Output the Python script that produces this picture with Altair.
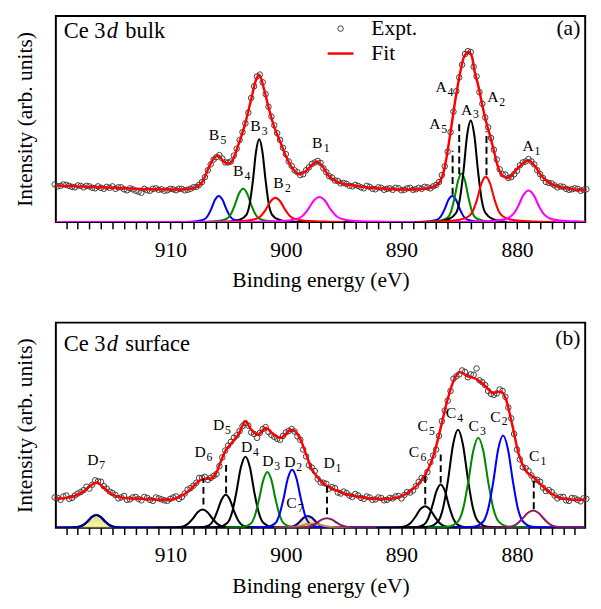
import altair as alt
import pandas as pd

FONT = "Liberation Serif"

# ---------------- x sampling of the experimental points ----------------
GRID = [920 - 0.5 * i for i in range(93)]          # 920.0 ... 874.0
MID_GRID = [919.75 - 0.5 * i for i in range(92)]   # 919.75 ... 874.25
X_TICKS = list(range(875, 920))

# ---------------- panel (a): Ce 3d bulk ----------------
a_expt = [38.5, 37, 38, 36, 37.5, 35.5, 36.5, 34.5, 35, 36,
          36.5, 35.5, 33.5, 34.5, 32, 30, 32.5, 34, 33, 32,
          34, 32.5, 34, 33, 35.5, 38, 46, 59, 66.5, 65,
          61, 68, 84, 101, 127, 149, 143, 118, 99, 84,
          69.5, 57.5, 51, 49, 56, 61, 60.5, 51, 45.5, 42,
          40, 37, 38, 35.5, 37, 34, 35.5, 33, 34.5, 35,
          32.5, 34.5, 33, 35, 36, 34.5, 38, 48, 72, 113,
          148, 172, 174, 149, 121, 97, 74, 54, 48.5, 46,
          52.5, 61, 64.5, 59, 49, 41, 39.5, 35.5, 36, 33,
          34.5, 32, 33.5]

a_expt_mid = [36.5, 38.5, 37, 35.5, 37, 37, 35, 36.5, 34, 35,
              34, 35.5, 32.5, 33.5, 31, 34, 32, 34.5, 33.5, 32.5,
              33.5, 34, 32.5, 34, 36, 41, 53, 64, 68.5, 61,
              62, 75, 92, 112, 139, 151, 131, 108, 91, 76,
              62, 53, 48, 53, 59.5, 62.5, 55, 47, 42.5, 39.5,
              39, 36.5, 37, 34.5, 36, 33.5, 35, 34, 33, 34.5,
              33, 35, 33.5, 34, 35.5, 36.5, 41, 57, 92, 134,
              161, 175, 159, 133, 107, 86, 64, 49, 45, 49,
              58, 62, 62, 53, 45, 40, 37.5, 36.5, 34, 33.5,
              34, 33]

a_fit = [(920, 37.5), (919, 37), (918, 36.5), (917, 36), (916, 35.5), (915, 35), (914, 34.5),
         (913, 34), (912, 33.6), (911, 33.4), (910, 33.3), (909.13, 33.3), (908.5, 33.8),
         (908.02, 34.7), (907.5, 37.5), (907.18, 42), (906.62, 57), (906.2, 65.7), (905.84, 68),
         (905.37, 61.7), (904.95, 59.7), (904.67, 62), (904.11, 79), (903.56, 99), (903.0, 125.7),
         (902.58, 145.7), (902.3, 150.7), (901.88, 135.7), (901.46, 115.7), (901.05, 99),
         (900.49, 82.3), (899.93, 65.7), (899.37, 54), (898.81, 49), (898.26, 52.3), (897.7, 59),
         (897.28, 61.7), (896.86, 57.3), (896.3, 47.3), (895.47, 40.7), (894.07, 37.3),
         (892.68, 35), (891.28, 34), (889.61, 33.3), (888.5, 33.6), (887.5, 35), (886.82, 39),
         (886.26, 55.7), (885.79, 89), (885.37, 122.3), (884.87, 155.7), (884.59, 169),
         (884.17, 174), (883.89, 169), (883.7, 156), (883.34, 139), (883.06, 123), (882.7, 104),
         (882.3, 87), (882.0, 73), (881.66, 57), (881.2, 47), (880.8, 45), (880.13, 52.3),
         (879.43, 60.7), (879.01, 63), (878.45, 57.3), (877.9, 47.3), (877.06, 39),
         (876.22, 35.7), (875, 33.3), (874, 32.3)]

a_comps = {
    "B5": ("#0000ff", [(909.05, 0), (907.75, 0.8), (907.1, 2.4), (906.78, 5.9), (906.45, 13.4), (906.13, 22.7),
                       (905.8, 26.7), (905.48, 22.7), (905.15, 13.4), (904.83, 5.9), (904.5, 2.4), (903.85, 0.8), (902.55, 0)]),
    "B4": ("#008a00", [(907.33, 0), (905.88, 1.0), (905.15, 3.1), (904.79, 7.5), (904.43, 17), (904.06, 28.9),
                       (903.7, 34), (903.34, 28.9), (902.98, 17), (902.61, 7.5), (902.25, 3.1), (901.53, 1.0), (900.08, 0)]),
    "B3": ("#000000", [(905.05, 0), (903.95, 2.5), (903.4, 7.6), (903.13, 18.6), (902.85, 42.4), (902.58, 72),
                       (902.3, 84.7), (902.03, 72), (901.75, 42.4), (901.48, 18.6), (901.2, 7.6), (900.65, 2.5), (899.55, 0)]),
    "B2": ("#ff0000", [(907, 0), (905.15, 0.4), (903.45, 1.2), (902.6, 3.0), (902.18, 5.9), (901.75, 12.4), (901.33, 21),
                       (900.9, 24.7), (900.48, 21), (900.05, 12.4), (899.63, 5.9), (899.2, 3.0), (898.35, 1.2),
                       (896.65, 0.4), (895, 0)]),
    "B1": ("#ff00ff", [(920, 0), (903, 0), (901.98, 0.4), (900.03, 1.3), (899.05, 3.1), (898.56, 6.2), (898.08, 12.9),
                       (897.59, 21.8), (897.1, 25.7), (896.61, 21.8), (896.13, 12.9), (895.64, 6.2), (895.15, 3.1),
                       (894.18, 1.3), (892.23, 0.4), (890.5, 0), (874, 0)]),
    "A5": ("#0000ff", [(888.85, 0), (887.55, 0.8), (886.9, 2.4), (886.58, 5.9), (886.25, 13.4), (885.93, 22.7),
                       (885.6, 26.7), (885.28, 22.7), (884.95, 13.4), (884.63, 5.9), (884.3, 2.4), (883.65, 0.8), (882.35, 0)]),
    "A4": ("#008a00", [(887.8, 0), (886.6, 1.5), (886.0, 4.5), (885.7, 10.9), (885.4, 24.9), (885.1, 42.2),
                       (884.8, 49.7), (884.5, 42.2), (884.2, 24.9), (883.9, 10.9), (883.6, 4.5), (883.0, 1.5), (881.8, 0)]),
    "A3": ("#000000", [(887.15, 0), (885.89, 3.1), (885.26, 9.4), (884.95, 22.9), (884.63, 52), (884.32, 88.4),
                       (884.0, 104), (883.69, 88.4), (883.37, 52), (883.06, 22.9), (882.74, 9.4), (882.11, 3.1), (880.85, 0)]),
    "A2": ("#ff0000", [(888.7, 0), (886.45, 0.7), (884.95, 2.3), (884.2, 5.6), (883.83, 11.1), (883.45, 23.2),
                       (883.08, 39.4), (882.7, 46.3), (882.33, 39.4), (881.95, 23.2), (881.58, 11.1), (881.2, 5.6),
                       (880.45, 2.3), (878.95, 0.7), (876.7, 0)]),
    "A1": ("#ff00ff", [(885.5, 0), (883.5, 0.5), (881.7, 1.6), (880.8, 3.9), (880.35, 7.8), (879.9, 16.2),
                       (879.45, 27.5), (879.0, 32.3), (878.55, 27.5), (878.1, 16.2), (877.65, 7.8), (877.2, 3.9),
                       (876.3, 1.6), (874.5, 0.5), (874, 0.3)]),
}

a_dashes = [(885.57, 28, 73), (885.0, 49, 101), (882.64, 48, 93)]

a_labels = [("B", "5", 906.21, 89), ("B", "3", 902.64, 98), ("B", "4", 904.12, 52.3), ("B", "2", 900.63, 39.7),
            ("B", "1", 897.28, 80.7), ("A", "4", 886.57, 138), ("A", "5", 887.1, 100), ("A", "3", 884.36, 115),
            ("A", "2", 882.08, 127.5), ("A", "1", 879.04, 78)]

# ---------------- panel (b): Ce 3d surface ----------------
b_expt = [31, 28.5, 33, 30.5, 35, 38.5, 40, 48.5, 47, 40,
          35.5, 30, 32.5, 29, 31.5, 28, 30.5, 27.5, 30, 28,
          29.5, 32, 31.5, 39, 43, 51, 52, 51, 55, 72,
          84, 92, 99, 107, 97.5, 92, 101, 98, 93, 90,
          97.5, 101, 93.5, 80, 64, 58, 46.5, 45, 41.5, 36,
          37, 33, 34.5, 30.5, 32, 28.5, 31, 28, 30.5, 32,
          30, 36.5, 38, 47, 50.5, 67, 80, 109, 130, 152.5,
          157, 159.5, 157, 163, 149, 140, 136, 141.5, 134, 112,
          80, 62, 58, 49.5, 47, 37.5, 36.5, 30, 31.5, 27.5,
          30, 27, 29.5]

b_expt_mid = [30.5, 32, 29.5, 33, 36.5, 42, 44, 47.5, 42.5, 37,
              33.5, 31, 28.5, 31, 29.5, 31.5, 28.5, 31, 29, 27.5,
              31, 29.5, 35, 40.5, 46, 51, 49, 53, 63, 79,
              88, 94.5, 104, 104.5, 96, 97, 103, 95, 91, 94,
              99, 98.5, 90, 73, 61.5, 50, 46, 40, 40.5, 35,
              35.5, 31.5, 33, 29.5, 31, 29, 30.5, 28.5, 30, 32.5,
              33.5, 36, 42.5, 51, 57, 74, 94, 120, 140, 155,
              161, 154, 156.5, 151, 146, 137, 137.5, 140, 123, 96,
              70, 61, 53.5, 49, 41, 38.5, 33, 31.5, 28, 30.5,
              28.5, 30]

b_fit = [(920, 29.5), (919.73, 29.7), (918.62, 31.3), (917.5, 37), (916.9, 43), (916.38, 46.3), (915.69, 40.3),
         (914.99, 33.7), (913.87, 30.3), (912.48, 29.7), (911.09, 28.7), (909.97, 28.7), (909.13, 32),
         (908.29, 38.7), (907.6, 47), (907.18, 49.7), (906.48, 50.3), (906.06, 55.3), (905.65, 67),
         (905.23, 78.7), (904.67, 87), (904.11, 95.3), (903.5, 108.7), (903.0, 100.3), (902.44, 95.3),
         (901.74, 102), (901.05, 95.3), (900.49, 92), (899.5, 100.3), (898.8, 92), (898.25, 75.3),
         (897.84, 62), (897.28, 52), (896.58, 43.7), (895.75, 38.7), (894.63, 33.7), (893.51, 31.3),
         (892.4, 29.7), (891.28, 29.3), (890.17, 31.6), (889.4, 36), (888.5, 45.3), (887.66, 60.3),
         (887.1, 78.7), (886.54, 105.3), (885.99, 132), (885.43, 152), (884.93, 159.3), (884.31, 155.3),
         (883.48, 152), (882.78, 145.3), (882.08, 138), (881.38, 139.3), (880.97, 132), (880.41, 105.3),
         (879.85, 75.3), (879.29, 59.3), (878.59, 52), (877.9, 43.7), (877.06, 35.3), (876.22, 30.3),
         (875.11, 28.7), (874, 28.7)]

b_comps = {
    "D6": ("#000000", [(911.45, 0), (909.75, 0.19), (908.9, 1.31), (908.48, 3.93), (908.05, 9.35), (907.63, 15.9),
                       (907.2, 18.7), (906.78, 15.9), (906.35, 9.35), (905.93, 3.93), (905.5, 1.31), (904.65, 0.19), (902.95, 0)]),
    "D5": ("#000000", [(908.83, 0), (907.38, 0.34), (906.65, 2.36), (906.29, 7.08), (905.93, 16.85), (905.56, 28.6),
                       (905.2, 33.7), (904.84, 28.6), (904.48, 16.85), (904.11, 7.08), (903.75, 2.36), (903.03, 0.34), (901.58, 0)]),
    "D4": ("#000000", [(907.38, 0), (905.83, 0.73), (905.05, 5.09), (904.66, 15.27), (904.28, 36.35), (903.89, 61.8),
                       (903.5, 72.7), (903.11, 61.8), (902.73, 36.35), (902.34, 15.27), (901.95, 5.09), (901.18, 0.73), (899.63, 0)]),
    "D3": ("#008a00", [(905.23, 0), (903.78, 0.57), (903.05, 3.99), (902.69, 11.97), (902.33, 28.5), (901.96, 48.45),
                       (901.6, 57), (901.24, 48.45), (900.88, 28.5), (900.51, 11.97), (900.15, 3.99), (899.43, 0.57), (897.98, 0)]),
    "D2": ("#0000ff", [(903.2, 0), (901.7, 0.59), (900.95, 4.15), (900.58, 12.45), (900.2, 29.65), (899.83, 50.4),
                       (899.45, 59.3), (899.08, 50.4), (898.7, 29.65), (898.33, 12.45), (897.95, 4.15), (897.2, 0.59), (895.7, 0)]),
    "C7b": ("#d08a40", [(901, 0), (899.5, 0.5), (898.7, 2), (898.2, 3.5), (897.7, 4), (897.2, 3.5), (896.7, 2),
                        (895.9, 0.5), (894.4, 0)]),
    "D1": ("#8b1c62", [(900.95, 0), (899.15, 0.1), (898.25, 0.68), (897.8, 2.04), (897.35, 4.85), (896.9, 8.25),
                       (896.45, 9.7), (896.0, 8.25), (895.55, 4.85), (895.1, 2.04), (894.65, 0.68), (893.75, 0.1), (891.95, 0)]),
    "C6": ("#000000", [(892.2, 0), (890.5, 0.22), (889.65, 1.54), (889.23, 4.62), (888.8, 11), (888.38, 18.7),
                       (887.95, 22), (887.53, 18.7), (887.1, 11), (886.68, 4.62), (886.25, 1.54), (885.4, 0.22), (883.7, 0)]),
    "C5": ("#000000", [(890.23, 0), (888.78, 0.44), (888.05, 3.1), (887.69, 9.3), (887.33, 22.15), (886.96, 37.66),
                       (886.6, 44.3), (886.24, 37.66), (885.88, 22.15), (885.51, 9.3), (885.15, 3.1), (884.43, 0.44), (882.98, 0)]),
    "C4": ("#000000", [(889.35, 0), (887.65, 1.0), (886.8, 7.02), (886.38, 21.06), (885.95, 50.15), (885.53, 85.26),
                       (885.1, 100.3), (884.68, 85.26), (884.25, 50.15), (883.83, 21.06), (883.4, 7.02), (882.55, 1.0), (880.85, 0)]),
    "C3": ("#008a00", [(887.73, 0), (885.98, 0.92), (885.1, 6.44), (884.66, 19.32), (884.23, 46), (883.79, 78.2),
                       (883.35, 92), (882.91, 78.2), (882.48, 46), (882.04, 19.32), (881.6, 6.44), (880.73, 0.92), (878.98, 0)]),
    "C2": ("#0000ff", [(885.45, 0), (883.75, 0.94), (882.9, 6.6), (882.48, 19.8), (882.05, 47.15), (881.63, 80.16),
                       (881.2, 94.3), (880.78, 80.16), (880.35, 47.15), (879.93, 19.8), (879.5, 6.6), (878.65, 0.94), (876.95, 0)]),
    "C1": ("#8b1c62", [(883.35, 0), (881.45, 0.18), (880.5, 1.24), (880.03, 3.72), (879.55, 8.85), (879.08, 15.05),
                       (878.6, 17.7), (878.13, 15.05), (877.65, 8.85), (877.18, 3.72), (876.7, 1.24), (875.75, 0.18), (873.85, 0)]),
}

b_filled = {
    "D7": [(920.15, 0), (918.65, 0.13), (917.9, 0.91), (917.53, 2.73), (917.15, 6.5), (916.78, 11.05), (916.4, 13),
           (916.03, 11.05), (915.65, 6.5), (915.28, 2.73), (914.9, 0.91), (914.15, 0.13), (912.65, 0), (874, 0)],
    "C7": [(901.6, 0), (900.2, 0.12), (899.5, 0.84), (899.15, 2.52), (898.8, 6), (898.45, 10.2), (898.1, 12),
           (897.75, 10.2), (897.4, 6), (897.05, 2.52), (896.7, 0.84), (896.0, 0.12), (894.6, 0)],
}

b_dashes = [(907.13, 23.7, 50.3), (905.17, 35.3, 64.3), (896.44, 13.7, 42.7),
            (887.94, 23.7, 53), (886.6, 46, 78.5), (878.55, 19, 51)]

b_labels = [("D", "7", 916.69, 69), ("D", "6", 907.41, 77), ("D", "5", 905.82, 105), ("D", "4", 903.39, 82),
            ("D", "3", 901.55, 68), ("D", "2", 899.65, 67), ("C", "7", 899.51, 25.3), ("D", "1", 896.25, 66),
            ("C", "6", 888.91, 77), ("C", "5", 888.16, 103.7), ("C", "4", 885.71, 117), ("C", "3", 883.75, 103.7),
            ("C", "2", 881.86, 113.7), ("C", "1", 878.51, 73.7)]

LEG_DOMAIN = ["Expt.", "Fit"]

# ---------------- helpers ----------------
XSCALE = alt.Scale(domain=[874.1, 919.9], reverse=True, nice=False, zero=False)
XAXIS = alt.Axis(values=X_TICKS, labelExpr="datum.value % 10 == 0 ? datum.value : ''",
                 title="Binding energy (eV)", labelOverlap=False)


def xenc():
    return alt.X("x:Q", scale=XSCALE, axis=XAXIS)


def yenc(ymax):
    return alt.Y("y:Q", scale=alt.Scale(domain=[0, ymax], nice=False, zero=False),
                 axis=alt.Axis(title="Intensity (arb. units)", labels=False, ticks=False,
                               domain=False, grid=False, titlePadding=20))


def comps_df(comps):
    rows = []
    for name, (col, pts) in comps.items():
        for x, y in pts:
            rows.append({"comp": name, "col": col, "x": x, "y": y})
    return pd.DataFrame(rows)


def text_piece(txt, px, py, size, style="normal", align="left"):
    return alt.Chart(pd.DataFrame({"t": [txt]})).mark_text(
        font=FONT, fontSize=size, fontStyle=style, align=align, baseline="alphabetic", color="black"
    ).encode(x=alt.value(px), y=alt.value(py), text="t:N")


def build_panel(expt, expt_mid, fit, comps, dashes, labels, ymax, title_word, tag, title_base, tag_base,
                filled=None, with_legend=False):
    ex = pd.DataFrame({"x": GRID + MID_GRID, "y": expt + expt_mid, "series": "Expt."})
    ft = pd.DataFrame({"x": [p[0] for p in fit], "y": [p[1] for p in fit], "series": "Fit"})
    cdf = comps_df(comps)
    ddf = pd.DataFrame({"x": [d[0] for d in dashes], "y": [d[1] for d in dashes], "y2": [d[2] for d in dashes]})
    ldf = pd.DataFrame({"L": [l[0] for l in labels], "n": [l[1] for l in labels],
                        "x": [l[2] for l in labels], "y": [l[3] for l in labels]})

    layers = []
    if filled:
        rows = []
        for name, pts in filled.items():
            for x, y in pts:
                rows.append({"comp": name, "x": x, "y": y})
        fdf = pd.DataFrame(rows)
        grad = alt.Gradient(gradient="linear",
                            stops=[alt.GradientStop(color="#d2c94c", offset=0),
                                   alt.GradientStop(color="#fcf984", offset=1)],
                            x1=0, x2=0, y1=0, y2=1)
        layers.append(alt.Chart(fdf).mark_area(
            interpolate="monotone", clip=True, color=grad,
            line=alt.OverlayMarkDef(color="#00008b", strokeWidth=2.2)
        ).encode(x=xenc(), y=yenc(ymax), detail="comp:N"))

    layers.append(alt.Chart(cdf).mark_line(interpolate="monotone", clip=True, strokeWidth=2.1).encode(
        x=xenc(), y=yenc(ymax), detail="comp:N", stroke=alt.Stroke("col:N", scale=None)))

    if with_legend:
        leg = alt.Legend(title=None, orient="none", legendX=277, legendY=2, padding=0,
                         labelFont=FONT, labelFontSize=22, labelColor="black", labelOffset=17,
                         rowPadding=-2)
        cscale = alt.Scale(domain=LEG_DOMAIN, range=["#3a3a3a", "#ff0000"])
        wscale = alt.Scale(domain=LEG_DOMAIN, range=[1, 2.5])
        layers.append(alt.Chart(ex).mark_point(filled=False, opacity=1).encode(
            x=xenc(), y=yenc(ymax),
            color=alt.Color("series:N", scale=cscale, legend=leg),
            shape=alt.Shape("series:N", scale=alt.Scale(domain=LEG_DOMAIN, range=["circle", "stroke"]), legend=leg),
            size=alt.Size("series:N", scale=alt.Scale(domain=LEG_DOMAIN, range=[32, 700]), legend=leg),
            strokeWidth=alt.StrokeWidth("series:N", scale=wscale, legend=leg)))
        layers.append(alt.Chart(ft).mark_line(interpolate="monotone", clip=True).encode(
            x=xenc(), y=yenc(ymax),
            color=alt.Color("series:N", scale=cscale, legend=leg),
            strokeWidth=alt.StrokeWidth("series:N", scale=wscale, legend=leg)))
    else:
        layers.append(alt.Chart(ex).mark_point(filled=False, opacity=1, color="#3a3a3a", size=32,
                                               strokeWidth=1).encode(x=xenc(), y=yenc(ymax)))
        layers.append(alt.Chart(ft).mark_line(interpolate="monotone", clip=True, color="#ff0000",
                                              strokeWidth=2.5).encode(x=xenc(), y=yenc(ymax)))

    layers.append(alt.Chart(ddf).mark_rule(color="black", strokeWidth=2, strokeDash=[7, 4]).encode(
        x=xenc(), y=yenc(ymax), y2="y2:Q"))

    layers.append(alt.Chart(ldf).mark_text(font=FONT, fontSize=16, align="center", baseline="middle",
                                           color="black").encode(x=xenc(), y=yenc(ymax), text="L:N"))
    layers.append(alt.Chart(ldf).mark_text(font=FONT, fontSize=12, align="center", baseline="middle",
                                           color="black", dx=9.5, dy=5).encode(x=xenc(), y=yenc(ymax), text="n:N"))

    layers.append(text_piece("Ce 3", 8, title_base, 23))
    layers.append(text_piece("d", 52, title_base, 23, style="italic"))
    layers.append(text_piece(title_word, 71, title_base, 23))
    layers.append(text_piece(tag, 537, tag_base, 22, align="right"))

    return alt.layer(*layers).properties(width=542, height=ymax)


panel_a = build_panel(a_expt, a_expt_mid, a_fit, a_comps, a_dashes, a_labels, 211, "bulk", "(a)", 23, 20,
                      with_legend=True)
panel_b = build_panel(b_expt, b_expt_mid, b_fit, b_comps, b_dashes, b_labels, 210, "surface", "(b)", 29, 23,
                      filled=b_filled)

chart = alt.vconcat(panel_a, panel_b, spacing=31).properties(
    padding={"left": 5, "top": 0, "right": 0, "bottom": 0}
).configure_view(stroke="black", strokeWidth=2).configure_axis(
    grid=False, labelFont=FONT, titleFont=FONT, labelFontSize=22, titleFontSize=22,
    titleFontWeight="normal", labelColor="black", titleColor="black", tickColor="black"
).configure_axisX(tickSize=7, tickWidth=1.5, domain=False, labelPadding=11, titlePadding=10)

chart.save("out.html", embed_options={"renderer": "svg", "actions": False})
